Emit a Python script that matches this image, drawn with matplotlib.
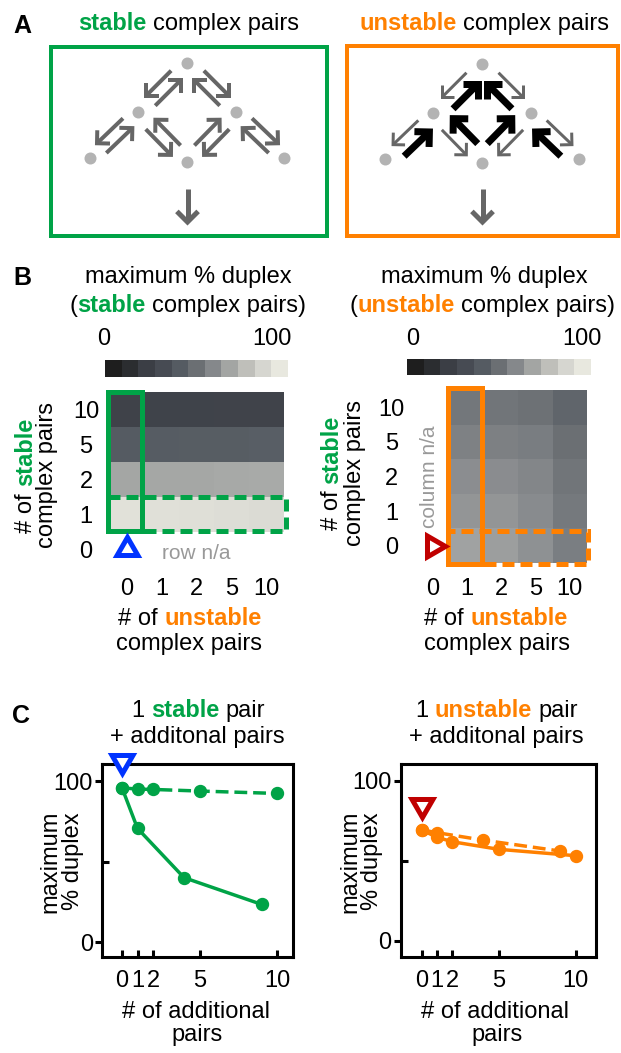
import numpy as np
import matplotlib
matplotlib.use('Agg')
import matplotlib.pyplot as plt
from matplotlib.colors import LinearSegmentedColormap
from matplotlib.markers import MarkerStyle
from matplotlib.patches import Rectangle, Circle
import matplotlib.transforms as mtransforms

# ---------------- data ----------------
count_labels = ['0', '1', '2', '5', '10']
colorbar_levels = [0, 10, 20, 30, 40, 50, 60, 70, 80, 90, 100]
gray_colors = ['#1e1e1e', '#2b2d30', '#3b3e45', '#474b53', '#555b62',
               '#6a6f73', '#85888b', '#a2a4a3', '#bfbfba', '#d6d6d0', '#e8e8df']

# maximum % duplex; rows = # stable pairs (0,1,2,5,10), cols = # unstable pairs (0,1,2,5,10)
stable_heat = [
    [np.nan, np.nan, np.nan, np.nan, np.nan],
    [95.8, 95.0, 94.8, 93.8, 92.3],
    [70.6, 71.0, 71.0, 71.5, 72.0],
    [40.0, 40.5, 41.0, 41.0, 41.5],
    [23.4, 23.5, 23.5, 24.0, 24.0],
]
unstable_heat = [
    [np.nan, 69.4, 67.7, 63.0, 56.2],
    [np.nan, 64.8, 64.5, 61.0, 54.0],
    [np.nan, 62.0, 61.5, 59.0, 52.5],
    [np.nan, 57.3, 57.0, 55.5, 50.0],
    [np.nan, 53.3, 52.5, 51.0, 45.0],
]

additional_ticks = [0, 1, 2, 5, 10]
stable_add_stable_x = [0, 1, 4, 9]
stable_add_stable_y = [95.8, 70.6, 40.0, 23.4]
stable_add_unstable_x = [0, 1, 2, 5, 10]
stable_add_unstable_y = [95.8, 95.0, 94.8, 93.8, 92.3]
unstable_add_stable_x = [0, 1, 2, 5, 10]
unstable_add_stable_y = [69.4, 64.8, 62.0, 57.3, 53.3]
unstable_add_unstable_x = [0, 1, 4, 9]
unstable_add_unstable_y = [69.4, 67.7, 63.0, 56.2]

# ---------------- style ----------------
W, H, DPI = 621, 1053, 100
PX = 72.0 / DPI
FS = 17
GREEN = '#00a347'
ORANGE = '#ff8000'
BLUE = '#0033ff'
DARKRED = '#c00000'
ARROW_GRAY = '#666666'
DOT_GRAY = '#b3b3b3'
NA_GRAY = '#999999'
K = 'black'
N = 'normal'
BD = 'bold'

plt.rcParams['font.family'] = ['Liberation Sans', 'DejaVu Sans']
plt.rcParams['font.size'] = FS

fig = plt.figure(figsize=(W / DPI, H / DPI), dpi=DPI)
fig.patch.set_facecolor('white')


def frect(x0, y0, x1, y1):
    return [x0 / W, 1 - y1 / H, (x1 - x0) / W, (y1 - y0) / H]


ov = fig.add_axes([0, 0, 1, 1], zorder=5)
ov.set_xlim(0, W)
ov.set_ylim(H, 0)
ov.axis('off')
ov.patch.set_visible(False)

renderer = fig.canvas.get_renderer()


def text_w(s, fs, weight):
    t = ov.text(0, 0, s, fontsize=fs, fontweight=weight)
    w = t.get_window_extent(renderer).width
    t.remove()
    return w


def space_w(fs, weight):
    return text_w('n n', fs, weight) - text_w('nn', fs, weight)


def rich(x, y, segs, fs=FS, rotation=0):
    pieces = []
    total = 0.0
    for seg in segs:
        s, c, wt = seg
        lead = len(s) - len(s.lstrip(' '))
        trail = len(s) - len(s.rstrip(' '))
        core = s.strip(' ')
        sw = space_w(fs, wt)
        cw = text_w(core, fs, wt)
        pieces.append((core, c, wt, total + lead * sw))
        total += lead * sw + cw + trail * sw
    for core, c, wt, off in pieces:
        pos = off - total / 2
        if rotation == 0:
            ov.text(x + pos, y, core, color=c, fontsize=fs, fontweight=wt,
                    ha='left', va='baseline')
        else:
            ov.text(x, y - pos, core, color=c, fontsize=fs, fontweight=wt,
                    ha='left', va='baseline', rotation=90, rotation_mode='anchor')


def draw_arrow(p, q, lw_px, head_px, color):
    p = np.asarray(p, float)
    q = np.asarray(q, float)
    d = (q - p) / np.linalg.norm(q - p)

    def rot(v, a):
        c, s = np.cos(a), np.sin(a)
        return np.array([c * v[0] - s * v[1], s * v[0] + c * v[1]])
    b1 = q - head_px * rot(d, np.pi / 4)
    b2 = q - head_px * rot(d, -np.pi / 4)
    e = q - d * lw_px * 0.3
    ov.plot([p[0], e[0]], [p[1], e[1]], color=color, lw=lw_px * PX,
            solid_capstyle='butt')
    ov.plot([b1[0], q[0], b2[0]], [b1[1], q[1], b2[1]], color=color,
            lw=lw_px * PX, solid_joinstyle='miter', solid_capstyle='butt')


# ---------------- panel A ----------------
ov.text(13, 33, 'A', fontsize=18, fontweight='bold', ha='left', va='baseline')
rich(188.5, 30, [('stable', GREEN, BD), (' complex pairs', K, N)])
rich(484, 30, [('unstable', ORANGE, BD), (' complex pairs', K, N)])
ov.add_patch(Rectangle((51, 47), 276, 188.7, fill=False, ec=GREEN, lw=4 * PX,
                       joinstyle='miter'))
ov.add_patch(Rectangle((346.5, 46), 271.5, 189.7, fill=False, ec=ORANGE,
                       lw=4 * PX, joinstyle='miter'))

node_offsets = {'top': (0, 0), 'ml': (-49, 49), 'mr': (49, 49),
                'bl': (-97, 95), 'bc': (0, 99), 'br': (97, 95)}
edges_left = [('top', 'ml'), ('ml', 'bl'), ('ml', 'bc')]
edges_right = [('top', 'mr'), ('mr', 'bc'), ('mr', 'br')]


def draw_network(top, up_style, down_style, length):
    nodes = {k: (top[0] + dx, top[1] + dy) for k, (dx, dy) in node_offsets.items()}
    for side, edges in (('L', edges_left), ('R', edges_right)):
        for u, l in edges:
            pu, pl = np.array(nodes[u], float), np.array(nodes[l], float)
            mid = (pu + pl) / 2
            for a, b, st in ((pu, pl, down_style), (pl, pu, up_style)):
                d = (b - a) / np.linalg.norm(b - a)
                if side == 'L':
                    n = np.array([-d[1], d[0]])
                else:
                    n = np.array([d[1], -d[0]])
                c = mid + n * st['off']
                draw_arrow(c - d * length / 2, c + d * length / 2,
                           st['lw'], st['head'], st['color'])
    for k, (x, y) in nodes.items():
        ov.add_patch(Circle((x, y), 6, color=DOT_GRAY, lw=0))
    bc = nodes['bc']
    draw_arrow((bc[0], 189), (bc[0], 222), 5, 15, ARROW_GRAY)


draw_network((187.5, 63.5),
             dict(lw=4.0, head=13, color=ARROW_GRAY, off=7),
             dict(lw=4.0, head=13, color=ARROW_GRAY, off=6.5), 36)
draw_network((482.5, 64.5),
             dict(lw=7.0, head=15, color='black', off=10.5),
             dict(lw=3.0, head=12, color=ARROW_GRAY, off=5.5), 35)

# ---------------- panel B ----------------
cmap = LinearSegmentedColormap.from_list('duplex', gray_colors)
cmap.set_bad((1, 1, 1, 0))


def heat_axes(r, grid, pad_y, pad_x):
    ax = fig.add_axes(r)
    ax.pcolormesh(np.arange(6), np.arange(6), np.ma.masked_invalid(np.array(grid)),
                  cmap=cmap, vmin=0, vmax=100, shading='flat')
    ax.set_xlim(0, 5)
    ax.set_ylim(0, 5)
    for s in ax.spines.values():
        s.set_visible(False)
    ax.patch.set_visible(False)
    ax.tick_params(length=0, labelsize=FS)
    ax.tick_params(axis='y', pad=pad_y)
    ax.tick_params(axis='x', pad=pad_x)
    ax.set_xticks(np.arange(5) + 0.5, count_labels, va='baseline')
    ax.set_yticks(np.arange(5) + 0.5, count_labels, ha='center')
    return ax


def cbar_axes(r):
    ax = fig.add_axes(r)
    ax.pcolormesh(np.arange(12), [0, 1], np.array([colorbar_levels], float),
                  cmap=cmap, vmin=0, vmax=100)
    ax.axis('off')
    return ax


tri_kw = dict(mfc='white', mew=3.6, ms=17.3, clip_on=False, zorder=10, ls='none')

axL = heat_axes(frect(109, 391.7, 284, 566.7), stable_heat, 23 * PX, 28.3 * PX)
axL.add_patch(Rectangle((-0.02, 1.03), 0.95, 3.95, fill=False, ec=GREEN,
                        lw=3.6, clip_on=False, joinstyle='miter', zorder=5))
axL.add_patch(Rectangle((-0.02, 1.03), 5.07, 0.97, fill=False, ec=GREEN,
                        lw=3.6, ls=(0, (2.4, 1.2)), clip_on=False, zorder=5))
axL.plot([0.5], [0.5], marker=MarkerStyle((3, 0, 0), joinstyle='miter'),
         mec=BLUE, **tri_kw)
cbar_axes(frect(105, 360, 288, 377))

axR = heat_axes(frect(415.8, 390, 586.7, 563), unstable_heat, 24.3 * PX, 32 * PX)
axR.add_patch(Rectangle((0.95, -0.02), 0.98, 5.08, fill=False, ec=ORANGE,
                        lw=3.6, clip_on=False, joinstyle='miter', zorder=5))
axR.add_patch(Rectangle((0.95, -0.02), 4.08, 0.94, fill=False, ec=ORANGE,
                        lw=3.6, ls=(0, (2.4, 1.2)), clip_on=False, zorder=5))
axR.plot([0.5], [0.5], marker=MarkerStyle((3, 0, -90), joinstyle='miter'),
         mec=DARKRED, **tri_kw)
cbar_axes(frect(407, 359, 591, 375))

ov.text(13, 285, 'B', fontsize=18, fontweight='bold', ha='left', va='baseline')
# left B texts
ov.text(188.5, 283.3, 'maximum % duplex', ha='center', va='baseline')
rich(187.5, 311.7, [('(', K, N), ('stable', GREEN, BD), (' complex pairs)', K, N)])
ov.text(104, 345, '0', ha='center', va='baseline')
ov.text(271.5, 345, '100', ha='center', va='baseline')
rich(31.7, 475.5, [('# of ', K, N), ('stable', GREEN, BD)], rotation=90)
rich(53.3, 475.5, [('complex pairs', K, N)], rotation=90)
rich(189.5, 625, [('# of ', K, N), ('unstable', ORANGE, BD)])
ov.text(189, 650, 'complex pairs', ha='center', va='baseline')
ov.text(196, 559, 'row n/a', ha='center', va='baseline', fontsize=15, color=NA_GRAY)
# right B texts
ov.text(484.2, 283.3, 'maximum % duplex', ha='center', va='baseline')
rich(482.5, 311.7, [('(', K, N), ('unstable', ORANGE, BD), (' complex pairs)', K, N)])
ov.text(413, 345, '0', ha='center', va='baseline')
ov.text(581.7, 345, '100', ha='center', va='baseline')
rich(338.5, 473, [('# of ', K, N), ('stable', GREEN, BD)], rotation=90)
rich(360.5, 473, [('complex pairs', K, N)], rotation=90)
rich(495.5, 625, [('# of ', K, N), ('unstable', ORANGE, BD)])
ov.text(496.7, 650, 'complex pairs', ha='center', va='baseline')
rich(435, 476.7, [('column n/a', NA_GRAY, N)], fs=15, rotation=90)

# ---------------- panel C ----------------
LW = 2.5
MS = 8.6
DASH = (0, (3.7, 1.7))


def line_axes(r, xlim, ylim):
    ax = fig.add_axes(r)
    ax.set_xlim(*xlim)
    ax.set_ylim(*ylim)
    for s in ax.spines.values():
        s.set_linewidth(2.2)
    ax.tick_params(labelsize=FS)
    ax.tick_params(axis='x', direction='in', length=5, width=2.2, pad=21.4)
    ax.tick_params(axis='y', which='major', direction='out', length=5, width=2.2, pad=1.5)
    ax.tick_params(axis='y', which='minor', direction='in', length=5, width=2.2)
    ax.set_xticks(additional_ticks, count_labels, va='baseline')
    ax.set_yticks([0, 100], ['0', '100'])
    ax.set_yticks([50], minor=True)
    return ax


axCL = line_axes(frect(102, 764, 293, 957), (-1.29, 11.03), (-9.3, 110.6))
axCL.plot(stable_add_unstable_x, stable_add_unstable_y, color=GREEN, lw=LW, ls=DASH,
          marker='o', ms=MS, clip_on=False)
axCL.plot(stable_add_stable_x, stable_add_stable_y, color=GREEN, lw=LW,
          marker='o', ms=MS, clip_on=False)
tr = mtransforms.blended_transform_factory(axCL.transData, axCL.transAxes)
axCL.plot([0], [1.013], transform=tr, marker=MarkerStyle((3, 0, 180), joinstyle='miter'),
          mec=BLUE, **tri_kw)

axCR = line_axes(frect(400.7, 764, 596, 957), (-1.36, 11.32), (-10, 110.6))
axCR.plot(unstable_add_unstable_x, unstable_add_unstable_y, color=ORANGE, lw=LW, ls=DASH,
          marker='o', ms=MS, clip_on=False)
axCR.plot(unstable_add_stable_x, unstable_add_stable_y, color=ORANGE, lw=LW,
          marker='o', ms=MS, clip_on=False)
tr = mtransforms.blended_transform_factory(axCR.transData, axCR.transAxes)
axCR.plot([0], [0.79], transform=tr, marker=MarkerStyle((3, 0, 180), joinstyle='miter'),
          mec=DARKRED, **tri_kw)

ov.text(12, 723, 'C', fontsize=18, fontweight='bold', ha='left', va='baseline')
rich(198, 716.7, [('1 ', K, N), ('stable', GREEN, BD), (' pair', K, N)])
ov.text(197.5, 743.3, '+ additonal pairs', ha='center', va='baseline')
rich(56.7, 861.5, [('maximum', K, N)], rotation=90)
rich(79, 861, [('% duplex', K, N)], rotation=90)
ov.text(196, 1018, '# of additional', ha='center', va='baseline')
ov.text(197, 1041, 'pairs', ha='center', va='baseline')

rich(496.7, 716.7, [('1 ', K, N), ('unstable', ORANGE, BD), (' pair', K, N)])
ov.text(496.7, 743.3, '+ additonal pairs', ha='center', va='baseline')
rich(356.5, 861.5, [('maximum', K, N)], rotation=90)
rich(378, 861, [('% duplex', K, N)], rotation=90)
ov.text(495, 1018, '# of additional', ha='center', va='baseline')
ov.text(496.7, 1041, 'pairs', ha='center', va='baseline')

fig.savefig('out.png', dpi=DPI)
